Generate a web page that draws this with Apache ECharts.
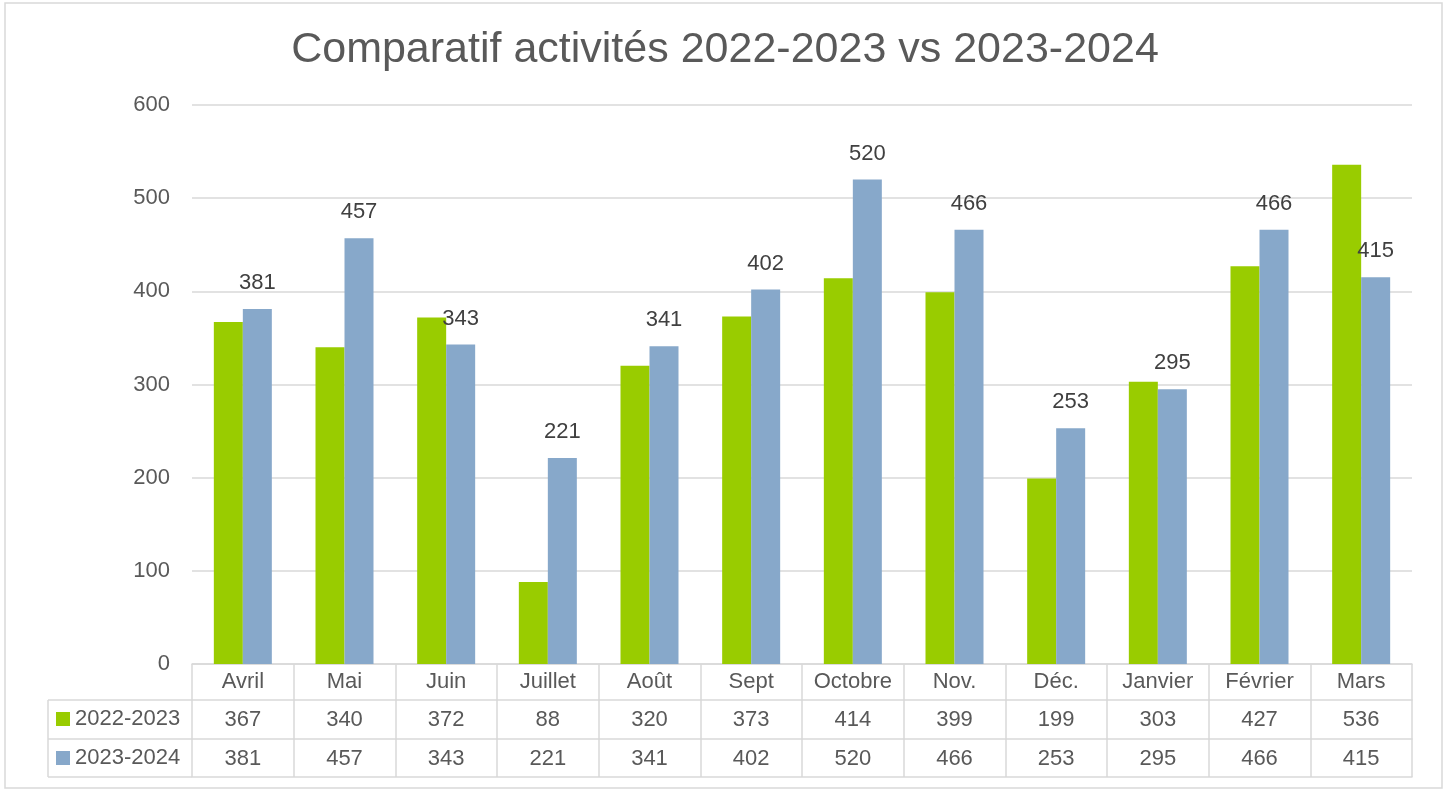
<!DOCTYPE html>
<html>
<head>
<meta charset="UTF-8">
<title>Comparatif activités</title>
<script src="https://cdn.jsdelivr.net/npm/echarts@6/dist/echarts.min.js"></script>
<style>
  *{margin:0;padding:0;}
  body{background:#fff;}
  #main{width:1450px;height:792px;}
</style>
</head>
<body>
<div id="main"></div>
<script>
// donnees
var mois = ['Avril','Mai','Juin','Juillet','Août','Sept','Octobre','Nov.','Déc.','Janvier','Février','Mars'];
var serie2223 = [367,340,372,88,320,373,414,399,199,303,427,536];
var serie2324 = [381,457,343,221,341,402,520,466,253,295,466,415];
var nomsSeries = ['2022-2023','2023-2024'];
var ticksY = {min:0, max:600, interval:100};

var couleurs = ['#99cc00','#87a8ca'];
var gris = '#d9d9d9';
var texte = '#595959';
var police = 'Liberation Sans, Arial, sans-serif';
var fs = 22;

// mise en page (pixels)
var gLeft = 192, gRight = 1412, gTop = 105, gBottom = 664;
var rowH = [36, 39, 38];  // hauteur des lignes du tableau
var tabLeft = 48;
var y1 = gBottom + rowH[0], y2 = y1 + rowH[1], y3 = y2 + rowH[2];

var myChart = echarts.init(document.getElementById('main'));

var option = {
  animation:false,
  textStyle:{fontFamily:police},
  title:{
    text:'Comparatif activités 2022-2023 vs 2023-2024',
    left:'center', top:24,
    textStyle:{fontSize:43, fontWeight:'normal', color:texte, fontFamily:police}
  },
  legend:{
    orient:'vertical', left:56, top:y1 + 8, padding:0,
    itemWidth:14, itemHeight:14, itemGap:17,
    icon:'rect',
    textStyle:{fontSize:fs, color:texte, lineHeight:22},
    data:nomsSeries
  },
  grid:{left:gLeft, right:1450-gRight, top:gTop, bottom:792-gBottom},
  xAxis:[
    {
      type:'category', data:mois, position:'bottom',
      axisLine:{show:true, lineStyle:{color:gris, width:1.5}},
      axisTick:{show:true, alignWithLabel:false, length:y3-gBottom, lineStyle:{color:gris, width:1.5}},
      axisLabel:{fontSize:fs, color:texte, margin:7, interval:0}
    },
    {
      type:'category', data:serie2223.map(String), position:'bottom', offset:rowH[0],
      axisLine:{show:true, lineStyle:{color:gris, width:1.5}},
      axisTick:{show:false},
      axisLabel:{fontSize:fs, color:texte, margin:9, interval:0}
    },
    {
      type:'category', data:serie2324.map(String), position:'bottom', offset:rowH[0]+rowH[1],
      axisLine:{show:true, lineStyle:{color:gris, width:1.5}},
      axisTick:{show:false},
      axisLabel:{fontSize:fs, color:texte, margin:9, interval:0}
    },
    {
      type:'category', data:mois, position:'bottom', offset:rowH[0]+rowH[1]+rowH[2],
      axisLine:{show:true, lineStyle:{color:gris, width:1.5}},
      axisTick:{show:false},
      axisLabel:{show:false}
    }
  ],
  yAxis:{
    type:'value', min:ticksY.min, max:ticksY.max, interval:ticksY.interval,
    axisLine:{show:false}, axisTick:{show:false},
    axisLabel:{fontSize:fs, color:texte, margin:22},
    splitLine:{lineStyle:{color:gris, width:1.5}}
  },
  series:[
    {
      name:nomsSeries[0], type:'bar', data:serie2223,
      barWidth:29, barGap:'0%',
      itemStyle:{color:couleurs[0]}
    },
    {
      name:nomsSeries[1], type:'bar', data:serie2324,
      barWidth:29, barGap:'0%',
      itemStyle:{color:couleurs[1]},
      label:{show:true, position:'top', distance:15, fontSize:fs, color:'#404040'}
    }
  ],
  graphic:[
    // cadre general
    {type:'rect', shape:{x:5, y:3, width:1437, height:785}, style:{fill:'none', stroke:gris, lineWidth:1.5}, silent:true},
    // colonne de gauche du tableau
    {type:'line', shape:{x1:tabLeft, y1:y1, x2:gLeft, y2:y1}, style:{stroke:gris, lineWidth:1.5}},
    {type:'line', shape:{x1:tabLeft, y1:y2, x2:gLeft, y2:y2}, style:{stroke:gris, lineWidth:1.5}},
    {type:'line', shape:{x1:tabLeft, y1:y3, x2:gLeft, y2:y3}, style:{stroke:gris, lineWidth:1.5}},
    {type:'line', shape:{x1:tabLeft, y1:y1, x2:tabLeft, y2:y3}, style:{stroke:gris, lineWidth:1.5}}
  ]
};

myChart.setOption(option);
</script>
</body>
</html>
